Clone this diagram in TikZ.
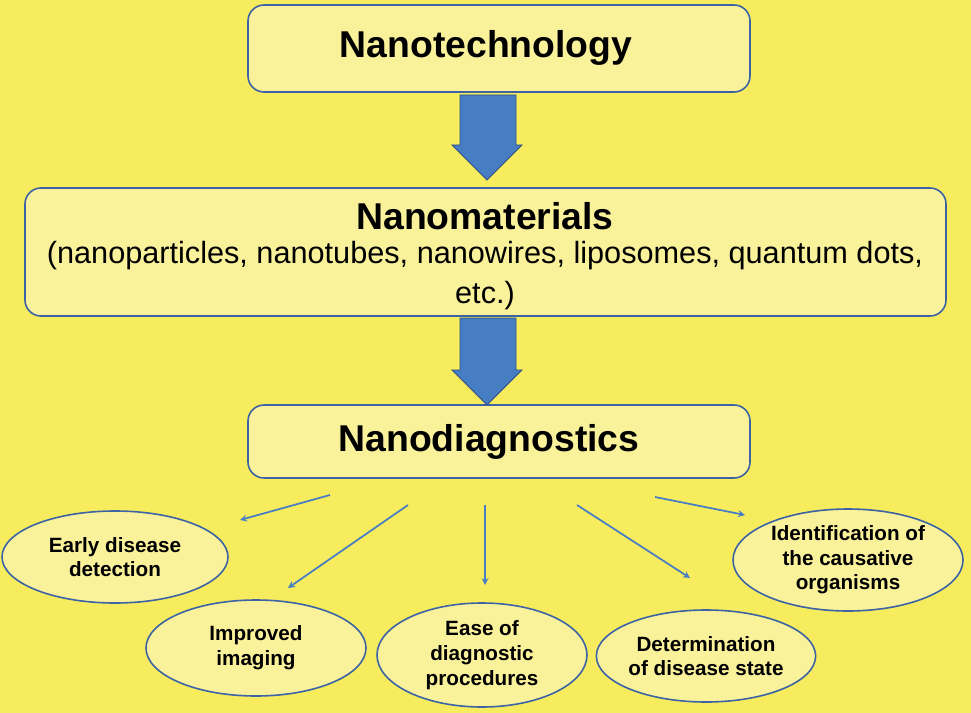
\documentclass[tikz,border=0pt]{standalone}
\usepackage{fontspec}
\setmainfont{Liberation Sans}
\usetikzlibrary{shapes.geometric}
\definecolor{bg}{RGB}{247,236,94}
\definecolor{boxf}{RGB}{250,241,155}
\definecolor{edge}{RGB}{60,100,165}
\definecolor{arr}{RGB}{70,125,195}
\begin{document}
\begin{tikzpicture}[x=0.75pt,y=-0.75pt,
  box/.style={draw=edge,fill=boxf,line width=1.2pt,rounded corners=12pt},
  ell/.style={draw=edge,fill=boxf,line width=1.2pt,ellipse,inner sep=0pt,align=center,font=\bfseries\fontsize{15.5}{18.5}\selectfont},
  thin/.style={draw=arr,line width=1.3pt,-stealth},
  big/.style={fill=arr,draw=edge!80!black,line width=0.6pt}]
\fill[bg] (0,0) rectangle (971,713);
\useasboundingbox (0,0) rectangle (971,713);
\draw[box] (248,5) rectangle (750,92);
\node (t1) at (486,48) {\bfseries\fontsize{28}{32}\selectfont Nanotechnology};
\draw[box] (25,188) rectangle (946,316);
\node (t2) at (485,216) {\bfseries\fontsize{28}{32}\selectfont Nanomaterials};
\node[align=center,font=\fontsize{23}{30}\selectfont] (t2b) at (485,276) {(nanoparticles, nanotubes, nanowires, liposomes, quantum dots,\\ etc.)};
\draw[box] (248,405) rectangle (750,478);
\node (t3) at (489,442) {\bfseries\fontsize{28}{32}\selectfont Nanodiagnostics};
\draw[big] (460,95) -- (516,95) -- (516,145) -- (522,145) -- (487,180) -- (452,145) -- (460,145) -- cycle;
\draw[big] (460,318) -- (516,318) -- (516,370) -- (522,370) -- (487,405) -- (452,370) -- (460,370) -- cycle;
\node[ell,minimum width=226pt*0.75,minimum height=92pt*0.75] (e1) at (115,557) {Early disease\\detection};
\node[ell,minimum width=220pt*0.75,minimum height=96pt*0.75] (e2) at (256,648) {Improved\\imaging};
\node[ell,minimum width=210pt*0.75,minimum height=104pt*0.75] (e3) at (482,655) {Ease of\\diagnostic\\procedures};
\node[ell,minimum width=200pt*0.75,minimum height=92pt*0.75] (e4) at (706,656) {Determination\\of disease state};
\node[ell,minimum width=230pt*0.75,minimum height=102pt*0.75] (e5) at (848,560) {Identification of\\the causative\\organisms};
\coordinate (a1) at (330,495); \coordinate (b1) at (240,520);
\coordinate (a2) at (408,505); \coordinate (b2) at (288,588);
\coordinate (a3) at (485,505); \coordinate (b3) at (485,585);
\coordinate (a4) at (577,505); \coordinate (b4) at (690,578);
\coordinate (a5) at (655,497); \coordinate (b5) at (745,515);
\foreach \i in {1,...,5} \draw[thin] (a\i) -- (b\i);
\end{tikzpicture}
\end{document}
